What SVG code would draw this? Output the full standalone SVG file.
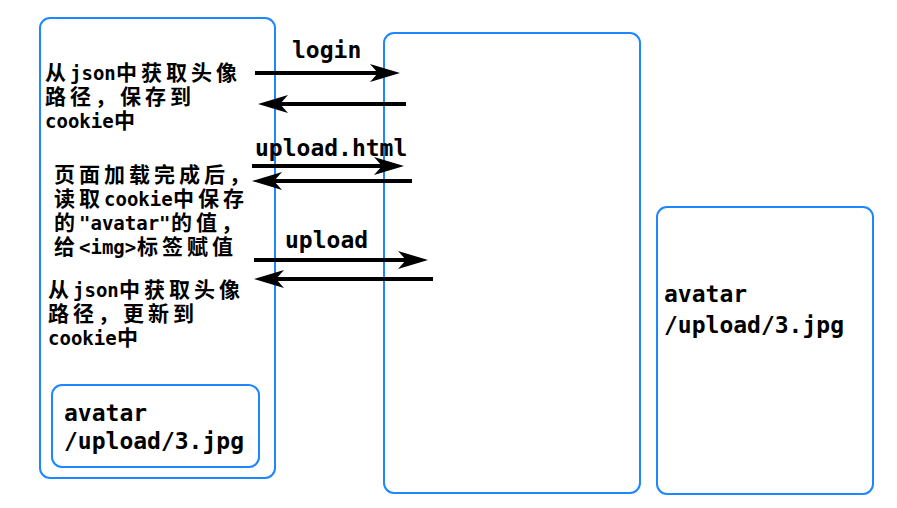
<svg xmlns="http://www.w3.org/2000/svg" width="897" height="508" viewBox="0 0 897 508">
<style>
.box{fill:#fff;stroke:#1E87FF;stroke-width:2}
.l{font-family:"DejaVu Sans Mono",monospace;font-size:19px;font-weight:bold;fill:#000}
.c{font-family:"Noto Sans CJK SC",sans-serif;font-size:21px;font-weight:bold;fill:#000;letter-spacing:4px}
.lbl{font-family:"DejaVu Sans Mono",monospace;font-size:23px;font-weight:bold;fill:#000}
.arr{stroke:#000;stroke-width:4;fill:none;marker-end:url(#ah)}
</style>
<defs>
<marker id="ah" markerUnits="userSpaceOnUse" viewBox="0 0 30 18" refX="20" refY="9" markerWidth="30" markerHeight="18" orient="auto">
<path d="M0,0 L30,9 L0,18 L8,9 Z" fill="#000"/>
</marker>
</defs>
<rect width="897" height="508" fill="#fff"/>
<g id="client">
<rect class="box" x="40" y="18" width="235" height="460" rx="10"/>
<text class="c" x="45" y="80">从</text><text class="l" x="70" y="80">json</text><text class="c" x="116" y="80">中获取头像</text>
<text class="c" x="45" y="104">路径，保存到</text>
<text class="l" x="45" y="128">cookie</text><text class="c" x="114" y="128">中</text>
<text class="c" x="54" y="182">页面加载完成后，</text>
<text class="c" x="54" y="206">读取</text><text class="l" x="104" y="206">cookie</text><text class="c" x="173" y="206">中保存</text>
<text class="c" x="54" y="230">的</text><text class="l" x="79" y="230">"avatar"</text><text class="c" x="171" y="230">的值，</text>
<text class="c" x="54" y="254">给</text><text class="l" x="79" y="254">&lt;img&gt;</text><text class="c" x="137" y="254">标签赋值</text>
<text class="c" x="48" y="297">从</text><text class="l" x="73" y="297">json</text><text class="c" x="119" y="297">中获取头像</text>
<text class="c" x="48" y="321">路径，更新到</text>
<text class="l" x="48" y="345">cookie</text><text class="c" x="117" y="345">中</text>
</g>
<g id="cookie">
<rect class="box" x="52" y="385" width="207" height="82" rx="10"/>
<text class="lbl" x="64" y="421">avatar</text>
<text class="lbl" x="64" y="449">/upload/3.jpg</text>
</g>
<g id="server">
<rect class="box" x="384" y="33" width="256" height="460" rx="10"/>
</g>
<g id="storage">
<rect class="box" x="657" y="207" width="216" height="287" rx="10"/>
<text class="lbl" x="664" y="302">avatar</text>
<text class="lbl" x="664" y="333">/upload/3.jpg</text>
</g>
<g id="connectors">
<line class="arr" x1="255" y1="73" x2="390" y2="73"/>
<line class="arr" x1="406" y1="104" x2="268" y2="104"/>
<line class="arr" x1="252" y1="166" x2="394" y2="166"/>
<line class="arr" x1="412" y1="181" x2="262" y2="181"/>
<line class="arr" x1="254" y1="260" x2="418" y2="260"/>
<line class="arr" x1="433" y1="279" x2="264" y2="279"/>
<text class="lbl" x="292" y="58">login</text>
<text class="lbl" x="255" y="156">upload.html</text>
<text class="lbl" x="285" y="248">upload</text>
</g>
</svg>
